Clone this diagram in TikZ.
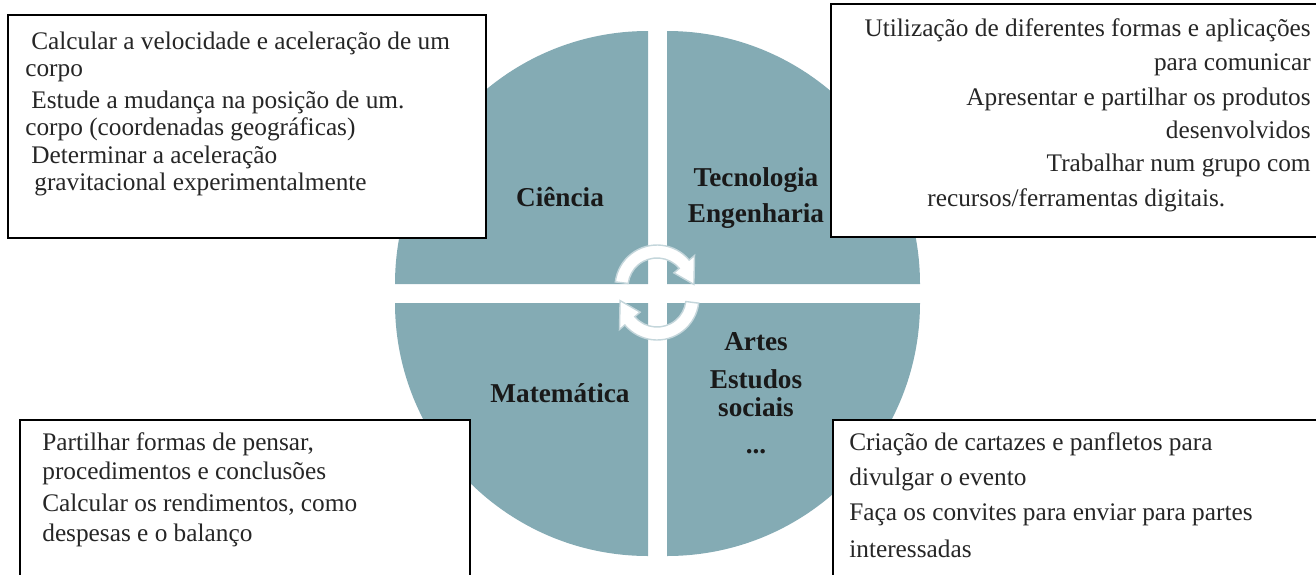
\documentclass[tikz,border=0pt]{standalone}
\usepackage{fontspec}
\setmainfont{Liberation Serif}
\usetikzlibrary{positioning}
\definecolor{quad}{RGB}{132,171,180}
\definecolor{arrline}{RGB}{196,214,219}

\begin{document}
\begin{tikzpicture}[x=0.02cm, y=-0.02cm,
    box/.style={draw=black, line width=1pt, fill=white},
    body/.style={font=\fontsize{14.4}{17}\selectfont, text=black!85, inner sep=0pt},
    subject/.style={font=\fontsize{15.5}{20.5}\selectfont\bfseries, text=black!90, inner sep=0pt, align=center},
    cycarrow/.style={fill=white, draw=arrline, line width=0.8pt}]
  \useasboundingbox (0,0) rectangle (1316,575);

  \fill[quad] (648,284) -- ++(-253,0) arc[start angle=180, end angle=270, radius=253] -- cycle;
  \fill[quad] (667,284) -- ++(253,0) arc[start angle=0, end angle=-90, radius=253] -- cycle;
  \fill[quad] (648,303) -- ++(-253,0) arc[start angle=180, end angle=90, radius=253] -- cycle;
  \fill[quad] (667,303) -- ++(253,0) arc[start angle=0, end angle=90, radius=253] -- cycle;

  \begin{scope}[shift={(657,287)}, yscale=-1]
    \filldraw[cycarrow] (173:42) arc[start angle=173, end angle=40, radius=42] -- (40:49) -- (4:37) -- (40:22) -- (40:29) arc[start angle=40, end angle=173, radius=29] -- cycle;
  \end{scope}
  \begin{scope}[shift={(657,298)}, yscale=-1, rotate=180]
    \filldraw[cycarrow] (173:42) arc[start angle=173, end angle=40, radius=42] -- (40:49) -- (4:37) -- (40:22) -- (40:29) arc[start angle=40, end angle=173, radius=29] -- cycle;
  \end{scope}

  \node[subject] (sci) at (560,197) {Ciência};
  \node[subject] (tec) at (756,198) {Tecnologia\\Engenharia};
  \node[subject] (mat) at (560,393) {Matemática};
  \node[subject] (art) at (756,342) {Artes};
  \node[subject, font=\fontsize{15.5}{16}\selectfont\bfseries] (est) at (756,393) {Estudos\\sociais};
  \node[subject] (dots) at (756,452) {...};

  \draw[box] (8,15) rectangle (486,238);
  \draw[box] (831,4) rectangle (1320,237);
  \draw[box] (20,420) rectangle (470,580);
  \draw[box] (833,420) rectangle (1320,580);

  \node[body, anchor=base west] (c1) at (31,49) {Calcular a velocidade e aceleração de um};
  \node[body, anchor=base west] (c2) at (25,76) {corpo};
  \node[body, anchor=base west] (c3) at (31,108) {Estude a mudança na posição de um.};
  \node[body, anchor=base west] (c4) at (25,135) {corpo (coordenadas geográficas)};
  \node[body, anchor=base west] (c5) at (31,163) {Determinar a aceleração};
  \node[body, anchor=base west] (c6) at (34,190) {gravitacional experimentalmente};

  \node[body, anchor=base east] (t1) at (1311,36) {Utilização de diferentes formas e aplicações};
  \node[body, anchor=base east] (t2) at (1311,70) {para comunicar};
  \node[body, anchor=base east] (t3) at (1311,105) {Apresentar e partilhar os produtos};
  \node[body, anchor=base east] (t4) at (1311,138) {desenvolvidos};
  \node[body, anchor=base east] (t5) at (1311,171) {Trabalhar num grupo com};
  \node[body, anchor=base west] (t6) at (927,206) {recursos/ferramentas digitais.};

  \node[body, anchor=base west] (m1) at (42,450) {Partilhar formas de pensar,};
  \node[body, anchor=base west] (m2) at (42,479) {procedimentos e conclusões};
  \node[body, anchor=base west] (m3) at (42,511) {Calcular os rendimentos, como};
  \node[body, anchor=base west] (m4) at (42,541) {despesas e o balanço};

  \node[body, anchor=base west] (a1) at (849,450) {Criação de cartazes e panfletos para};
  \node[body, anchor=base west] (a2) at (849,485) {divulgar o evento};
  \node[body, anchor=base west] (a3) at (849,520) {Faça os convites para enviar para partes};
  \node[body, anchor=base west] (a4) at (849,557) {interessadas};
\end{tikzpicture}
\end{document}
